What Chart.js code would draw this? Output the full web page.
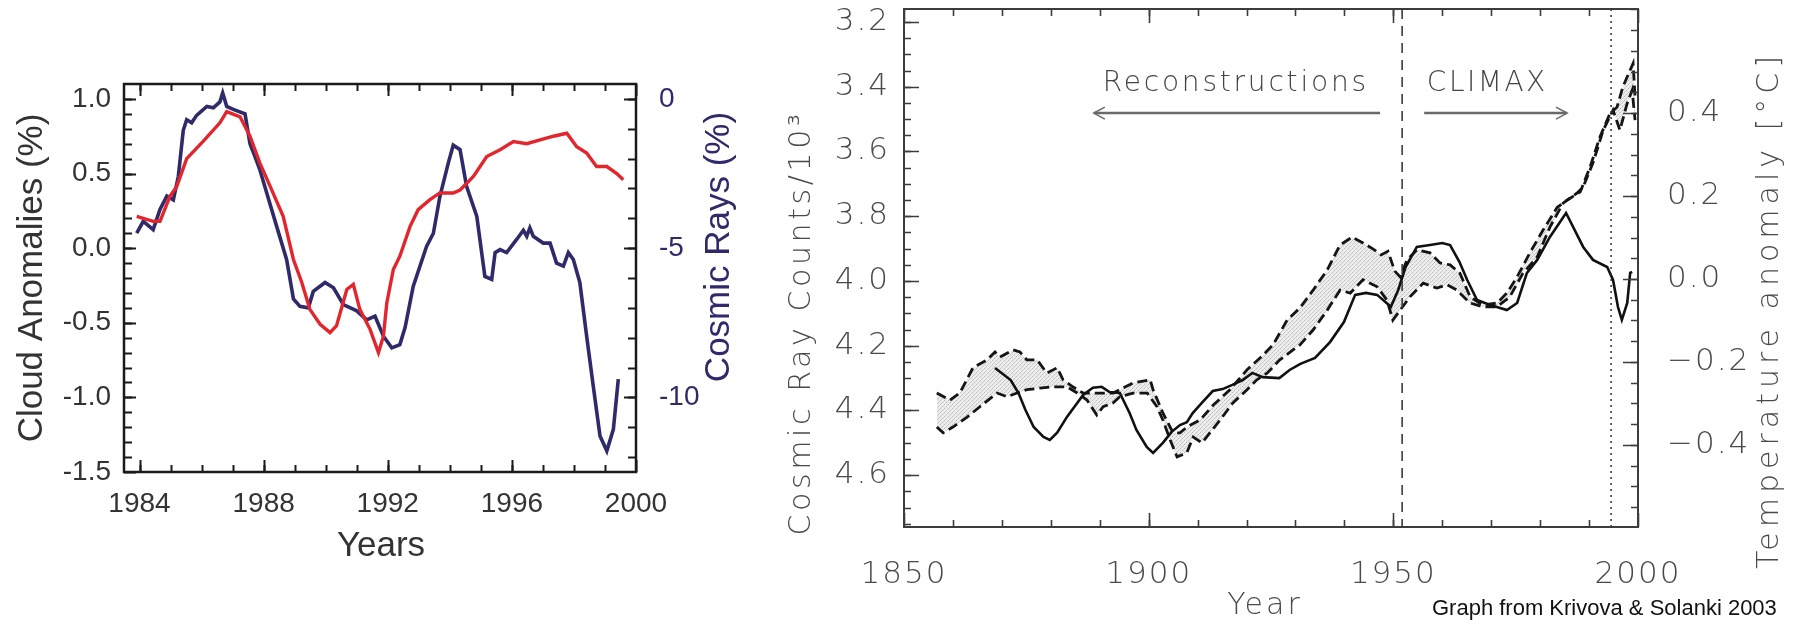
<!DOCTYPE html>
<html>
<head>
<meta charset="utf-8">
<title>Cloud cover, cosmic rays and temperature</title>
<script src="https://cdn.jsdelivr.net/npm/chart.js@4"></script>
<style>
  html, body { margin: 0; padding: 0; background: #fff; }
  body { width: 1796px; height: 625px; position: relative; overflow: hidden; }
  .box { position: absolute; top: 0; height: 625px; }
  #leftBox { left: 0; width: 760px; }
  #rightBox { left: 760px; width: 1036px; }
  #credit { position: absolute; left: 1432px; top: 595px; font: 22px "Liberation Sans", Arial, sans-serif; color: #111; white-space: nowrap; }
</style>
</head>
<body>
<div class="box" id="leftBox"><canvas id="cloudChart"></canvas></div>
<div class="box" id="rightBox"><canvas id="krivovaChart"></canvas></div>
<div id="credit">Graph from Krivova &amp; Solanki 2003</div>
<script>
// ---- left panel: cloud anomalies (%) vs cosmic rays (%) ----
const CLOUD_YEARS = [
  1983.91, 1984.44, 1984.66, 1984.98, 1985.20, 1985.52, 1986.05, 1986.59, 1986.81, 1987.24,
  1987.56, 1987.88, 1988.21, 1988.63, 1988.96, 1989.23, 1989.49, 1989.82, 1990.14, 1990.35,
  1990.68, 1990.89, 1991.10, 1991.43, 1991.70, 1991.86, 1991.97, 1992.18, 1992.39, 1992.72,
  1992.98, 1993.36, 1993.68, 1994.11, 1994.33, 1994.76, 1995.19, 1995.62, 1996.05, 1996.48,
  1996.91, 1997.34, 1997.77, 1998.09, 1998.41, 1998.73, 1999.06, 1999.38, 1999.59
];
const CLOUD_VALUES = [
  0.213, 0.18, 0.18, 0.347, 0.414, 0.60, 0.715, 0.84, 0.915, 0.88,
  0.75, 0.57, 0.414, 0.213, -0.076, -0.23, -0.41, -0.51, -0.566, -0.52,
  -0.277, -0.243, -0.41, -0.544, -0.70, -0.59, -0.366, -0.143, -0.054, 0.146,
  0.258, 0.325, 0.37, 0.37, 0.39, 0.48, 0.614, 0.66, 0.715, 0.70,
  0.726, 0.75, 0.77, 0.68, 0.637, 0.547, 0.547, 0.50, 0.458
];
const RAYS_YEARS = [
  1983.91, 1984.12, 1984.44, 1984.66, 1984.88, 1985.09, 1985.25, 1985.41, 1985.52, 1985.68,
  1985.84, 1986.17, 1986.38, 1986.59, 1986.68, 1986.81, 1987.02, 1987.40, 1987.56, 1987.72,
  1987.88, 1988.10, 1988.42, 1988.74, 1988.96, 1989.17, 1989.44, 1989.60, 1989.98, 1990.25,
  1990.57, 1991.00, 1991.32, 1991.59, 1991.86, 1992.13, 1992.39, 1992.56, 1992.82, 1993.25,
  1993.47, 1993.68, 1993.95, 1994.11, 1994.33, 1994.54, 1994.87, 1995.13, 1995.35, 1995.46,
  1995.62, 1995.83, 1996.16, 1996.37, 1996.48, 1996.58, 1996.69, 1997.01, 1997.23, 1997.44,
  1997.66, 1997.82, 1997.98, 1998.19, 1998.41, 1998.62, 1998.84, 1999.06, 1999.27, 1999.43
];
const RAYS_VALUES = [
  -4.50, -4.10, -4.38, -3.70, -3.25, -3.38, -2.60, -1.05, -0.70, -0.80,
  -0.55, -0.25, -0.30, -0.10, 0.20, -0.25, -0.35, -0.50, -1.50, -1.93,
  -2.38, -3.15, -4.27, -5.38, -6.70, -6.95, -7.00, -6.45, -6.15, -6.33,
  -6.89, -7.10, -7.40, -7.28, -7.95, -8.34, -8.23, -7.65, -6.28, -4.94,
  -4.50, -3.27, -2.15, -1.55, -1.70, -2.93, -3.94, -5.95, -6.05, -5.15,
  -5.05, -5.15, -4.70, -4.40, -4.60, -4.32, -4.60, -4.83, -4.83, -5.50,
  -5.60, -5.15, -5.38, -6.15, -7.95, -9.60, -11.29, -11.79, -11.07, -9.39
];
const LEFT_YEAR_TICKS = [1984, 1988, 1992, 1996, 2000];
const CLOUD_TICKS = [-1.5, -1.0, -0.5, 0.0, 0.5, 1.0];
const RAYS_TICKS = [-10, -5, 0];

// ---- right panel: cosmic ray counts/10^3 and temperature anomaly ----
const COUNT_YEARS = [
  1868.6, 1871.8, 1873.4, 1874.8, 1876.5, 1878.5, 1879.8, 1881.3, 1883.3, 1885.4,
  1886.6, 1888.6, 1890.4, 1892.0, 1894.1, 1896.1, 1897.5, 1899.6, 1900.9, 1902.9,
  1904.7, 1906.4, 1907.8, 1909.0, 1911.0, 1913.1, 1915.1, 1917.1, 1919.2, 1921.2,
  1923.3, 1926.7, 1928.8, 1931.0, 1934.0, 1937.1, 1939.9, 1942.2, 1944.4, 1946.7,
  1949.5, 1951.0, 1952.5, 1954.8, 1957.5, 1960.0, 1961.6, 1963.5, 1965.1, 1967.1,
  1969.8, 1973.2, 1975.3, 1977.3, 1979.4, 1982.0, 1985.3, 1988.8, 1990.8, 1993.7,
  1994.9, 1995.9, 1996.7, 1997.8, 1998.4, 1998.8
];
const COUNT_VALUES = [
  4.269, 4.306, 4.346, 4.398, 4.451, 4.482, 4.491, 4.469, 4.420, 4.377,
  4.352, 4.330, 4.327, 4.343, 4.346, 4.408, 4.460, 4.513, 4.531, 4.500,
  4.466, 4.445, 4.436, 4.408, 4.374, 4.340, 4.334, 4.321, 4.306, 4.284,
  4.297, 4.300, 4.275, 4.256, 4.238, 4.188, 4.127, 4.043, 4.037, 4.043,
  4.080, 4.028, 3.957, 3.895, 3.889, 3.883, 3.889, 3.941, 3.997, 4.059,
  4.074, 4.090, 4.068, 3.975, 3.935, 3.864, 3.790, 3.895, 3.935, 3.957,
  3.997, 4.080, 4.120, 4.068, 3.975, 3.972
];
const TEMP_HIGH_YEARS = [
  1856.7, 1859.4, 1861.4, 1864.1, 1867.0, 1868.6, 1869.6, 1872.3, 1873.7, 1875.1,
  1877.2, 1879.2, 1881.3, 1882.5, 1884.5, 1886.6, 1888.6, 1892.7, 1896.8, 1900.3,
  1900.9, 1902.9, 1905.0, 1906.4, 1907.8, 1910.5, 1913.2, 1916.6, 1920.1, 1922.8,
  1925.4, 1928.3, 1930.9, 1933.6, 1936.5, 1939.1, 1941.6, 1943.8, 1945.9, 1947.5,
  1948.9, 1950.3, 1951.4, 1952.8, 1954.8, 1957.5, 1959.5, 1961.6, 1963.6, 1965.7,
  1968.3, 1971.2, 1973.2, 1975.3, 1977.9, 1980.6, 1983.5, 1985.5, 1988.2, 1990.2,
  1992.2, 1994.3, 1995.7, 1996.9, 1998.4, 1999.0, 1999.4
];
const TEMP_HIGH = [
  -0.275, -0.292, -0.275, -0.214, -0.195, -0.176, -0.188, -0.171, -0.176, -0.195,
  -0.195, -0.227, -0.214, -0.243, -0.260, -0.275, -0.275, -0.275, -0.251, -0.243,
  -0.267, -0.323, -0.371, -0.371, -0.357, -0.340, -0.304, -0.267, -0.219, -0.190,
  -0.159, -0.099, -0.070, -0.027, 0.022, 0.082, 0.101, 0.087, 0.072, 0.058,
  0.067, 0.019, 0.005, 0.046, 0.070, 0.063, 0.039, 0.034, 0.014, -0.043,
  -0.063, -0.058, -0.034, 0.005, 0.063, 0.118, 0.173, 0.190, 0.210, 0.270,
  0.342, 0.400, 0.414, 0.463, 0.504, 0.520, 0.439
];
const TEMP_LOW_YEARS = [
  1856.7, 1858.0, 1860.0, 1862.9, 1865.5, 1867.2, 1869.0, 1871.1, 1873.1, 1875.1,
  1877.8, 1880.5, 1883.3, 1885.4, 1887.4, 1889.4, 1890.7, 1892.7, 1894.1, 1896.8,
  1899.7, 1901.7, 1902.9, 1904.4, 1905.8, 1907.8, 1909.1, 1910.9, 1912.5, 1914.6,
  1917.2, 1920.1, 1922.1, 1924.2, 1926.8, 1929.5, 1930.9, 1933.6, 1936.5, 1939.1,
  1941.2, 1943.8, 1946.7, 1948.7, 1949.9, 1951.4, 1953.4, 1956.1, 1958.9, 1961.0,
  1963.0, 1965.7, 1968.3, 1971.2, 1973.8, 1976.5, 1979.4, 1982.0, 1984.7, 1987.5,
  1988.8, 1990.8, 1992.9, 1994.9, 1996.3, 1997.8, 1998.8, 1999.4
];
const TEMP_LOW = [
  -0.357, -0.371, -0.357, -0.333, -0.308, -0.292, -0.275, -0.284, -0.275, -0.267,
  -0.263, -0.260, -0.260, -0.275, -0.292, -0.328, -0.308, -0.299, -0.284, -0.275,
  -0.275, -0.308, -0.340, -0.388, -0.429, -0.419, -0.381, -0.395, -0.371, -0.340,
  -0.299, -0.267, -0.243, -0.227, -0.195, -0.171, -0.159, -0.123, -0.075, -0.027,
  -0.034, -0.002, -0.019, -0.051, -0.099, -0.075, -0.043, -0.010, -0.022, -0.014,
  -0.027, -0.058, -0.067, -0.067, -0.043, 0.014, 0.053, 0.125, 0.183, 0.207,
  0.222, 0.280, 0.359, 0.407, 0.359, 0.424, 0.455, 0.383
];
const RIGHT_YEAR_TICKS = [1850, 1900, 1950, 2000];
const COUNT_TICKS = [3.2, 3.4, 3.6, 3.8, 4.0, 4.2, 4.4, 4.6];
const TEMP_TICKS = [-0.4, -0.2, 0.0, 0.2, 0.4];
const CLIMAX_START = 1951.8;   // dashed divider
const LAST_YEAR = 1994.5;      // dotted line

const RED = '#e3262d';
const NAVY = '#2f2b6a';
const LEFT_TEXT = '#333';
const RIGHT_TEXT = '#4a4a4a';

function pairs(xs, ys) {
  return xs.map((x, i) => ({ x: x, y: ys[i] }));
}

function steps(from, to, step) {
  const out = [];
  for (let i = 0; from + i * step <= to + 1e-9; i++) out.push(+(from + i * step).toFixed(4));
  return out;
}

function fixedTicks(values) {
  return scale => { scale.ticks = values.map(v => ({ value: v })); };
}

// pin the axis box size and drop the label overhang padding
function fixWidth(w) {
  return s => { s.width = w; s.paddingTop = 0; s.paddingBottom = 0; };
}
function fixHeight(h) {
  return s => { s.height = h; s.paddingLeft = 0; s.paddingRight = 0; };
}

// inward tick marks along one edge of the plot box
function tickMarks(ctx, scale, values, len, edge) {
  const a = scale.chart.chartArea;
  ctx.beginPath();
  for (const v of values) {
    const p = Math.round(scale.getPixelForValue(v)) + 0.5;
    if (edge === 'bottom') { ctx.moveTo(p, a.bottom); ctx.lineTo(p, a.bottom - len); }
    else if (edge === 'top') { ctx.moveTo(p, a.top); ctx.lineTo(p, a.top + len); }
    else if (edge === 'left') { ctx.moveTo(a.left, p); ctx.lineTo(a.left + len, p); }
    else { ctx.moveTo(a.right, p); ctx.lineTo(a.right - len, p); }
  }
  ctx.stroke();
}

function label(ctx, text, x, y, font, color, rotated, spacing) {
  ctx.save();
  ctx.translate(x, y);
  if (rotated) ctx.rotate(-Math.PI / 2);
  ctx.font = font;
  ctx.fillStyle = color;
  ctx.textAlign = 'center';
  ctx.textBaseline = 'middle';
  ctx.letterSpacing = spacing || '0px';
  ctx.fillText(text, 0, 0);
  ctx.restore();
}

function stipple() {
  const c = document.createElement('canvas');
  c.width = 4; c.height = 4;
  const g = c.getContext('2d');
  g.fillStyle = '#ececec';
  g.fillRect(0, 0, 4, 4);
  g.fillStyle = '#bdbdbd';
  g.fillRect(0, 0, 1, 1); g.fillRect(2, 2, 1, 1);
  g.fillStyle = '#d2d2d2';
  g.fillRect(3, 1, 1, 1); g.fillRect(1, 3, 1, 1);
  return g.createPattern(c, 'repeat');
}

Chart.defaults.font.family = '"Liberation Sans", Arial, sans-serif';
Chart.defaults.animation = false;

// ---------------- left chart ----------------
const leftFont = { family: '"Liberation Sans", Arial, sans-serif', size: 28 };

const leftFrame = {
  id: 'leftFrame',
  afterDatasetsDraw(chart) {
    const { ctx, chartArea: a, scales } = chart;
    ctx.save();
    ctx.strokeStyle = '#1a1a1a';
    ctx.lineWidth = 2;
    tickMarks(ctx, scales.x, steps(1984, 1999, 1), 7, 'bottom');
    tickMarks(ctx, scales.x, steps(1984, 1999, 1), 7, 'top');
    tickMarks(ctx, scales.x, LEFT_YEAR_TICKS, 12, 'bottom');
    tickMarks(ctx, scales.x, LEFT_YEAR_TICKS, 12, 'top');
    tickMarks(ctx, scales.y, steps(-1.4, 1.0, 0.1), 8, 'left');
    tickMarks(ctx, scales.y, CLOUD_TICKS, 12, 'left');
    tickMarks(ctx, scales.y2, steps(-12, 0, 1), 8, 'right');
    tickMarks(ctx, scales.y2, RAYS_TICKS, 12, 'right');
    ctx.lineWidth = 2.5;
    ctx.strokeRect(a.left, a.top, a.width, a.height);
    ctx.restore();

    const titleFont = '35px "Liberation Sans", Arial, sans-serif';
    label(ctx, 'Cloud Anomalies (%)', 32, 278, titleFont, LEFT_TEXT, true);
    label(ctx, 'Cosmic Rays (%)', 719, 247, titleFont, NAVY, true);
    label(ctx, 'Years', 381, 546, titleFont, LEFT_TEXT, false);
  }
};

new Chart(document.getElementById('cloudChart'), {
  type: 'line',
  data: {
    datasets: [
      { label: 'Cloud anomalies', data: pairs(CLOUD_YEARS, CLOUD_VALUES), yAxisID: 'y',
        borderColor: RED, borderWidth: 3.4, pointRadius: 0, tension: 0 },
      { label: 'Cosmic rays', data: pairs(RAYS_YEARS, RAYS_VALUES), yAxisID: 'y2',
        borderColor: NAVY, borderWidth: 3.6, pointRadius: 0, tension: 0 }
    ]
  },
  options: {
    responsive: true,
    maintainAspectRatio: false,
    devicePixelRatio: 1,
    layout: { padding: { top: 84, left: 0, right: 0, bottom: 0 } },
    plugins: { legend: { display: false }, tooltip: { enabled: false } },
    scales: {
      x: {
        type: 'linear', position: 'bottom', min: 1983.5, max: 2000,
        grid: { display: false, drawTicks: false }, border: { display: false },
        afterBuildTicks: fixedTicks(LEFT_YEAR_TICKS),
        afterFit: fixHeight(153),
        ticks: { font: leftFont, color: LEFT_TEXT, padding: 15, maxRotation: 0, autoSkip: false,
                 callback: v => String(v) }
      },
      y: {
        type: 'linear', position: 'left', min: -1.5, max: 1.1,
        grid: { display: false, drawTicks: false }, border: { display: false },
        afterBuildTicks: fixedTicks(CLOUD_TICKS),
        afterFit: fixWidth(124),
        ticks: { font: leftFont, color: LEFT_TEXT, padding: 13, callback: v => v.toFixed(1) }
      },
      y2: {
        type: 'linear', position: 'right', min: -12.5, max: 0.5,
        grid: { display: false, drawTicks: false }, border: { display: false },
        afterBuildTicks: fixedTicks(RAYS_TICKS),
        afterFit: fixWidth(124),
        ticks: { font: leftFont, color: NAVY, padding: 23, callback: v => String(v) }
      }
    }
  },
  plugins: [leftFrame]
});

// ---------------- right chart ----------------
const rightFont = { family: '"DejaVu Sans", sans-serif', size: 31, weight: '300' };
const rightTitle = '300 30px "DejaVu Sans", sans-serif';
const noteFont = '300 28px "DejaVu Sans", sans-serif';

const rightFrame = {
  id: 'rightFrame',
  beforeDraw(chart) {
    chart.ctx.letterSpacing = '2px';
  },
  afterDatasetsDraw(chart) {
    const { ctx, chartArea: a, scales } = chart;
    ctx.save();
    ctx.letterSpacing = '0px';
    ctx.strokeStyle = '#3c3c3c';

    // dividers
    ctx.lineWidth = 1.6;
    ctx.setLineDash([10, 7]);
    let px = scales.x.getPixelForValue(CLIMAX_START);
    ctx.beginPath(); ctx.moveTo(px, a.top); ctx.lineTo(px, a.bottom); ctx.stroke();
    ctx.setLineDash([2, 4]);
    px = scales.x.getPixelForValue(LAST_YEAR);
    ctx.beginPath(); ctx.moveTo(px, a.top); ctx.lineTo(px, a.bottom); ctx.stroke();
    ctx.setLineDash([]);

    // arrows
    const ay = scales.y2.getPixelForValue(0.40);
    const arrow = (from, to) => {
      const x1 = scales.x.getPixelForValue(from), x2 = scales.x.getPixelForValue(to);
      const d = Math.sign(x2 - x1);
      ctx.strokeStyle = '#6a6a6a';
      ctx.lineWidth = 2.5;
      ctx.beginPath(); ctx.moveTo(x1, ay); ctx.lineTo(x2, ay); ctx.stroke();
      ctx.lineWidth = 1.6;
      ctx.beginPath();
      ctx.moveTo(x2 - d * 11, ay - 6); ctx.lineTo(x2, ay); ctx.lineTo(x2 - d * 11, ay + 6);
      ctx.stroke();
    };
    arrow(1947.3, 1888.8);
    arrow(1956.3, 1985.5);

    // ticks and box
    ctx.strokeStyle = '#3c3c3c';
    ctx.lineWidth = 1.6;
    tickMarks(ctx, scales.x, steps(1860, 1990, 10), 7, 'bottom');
    tickMarks(ctx, scales.x, steps(1860, 1990, 10), 7, 'top');
    tickMarks(ctx, scales.x, RIGHT_YEAR_TICKS, 14, 'bottom');
    tickMarks(ctx, scales.x, RIGHT_YEAR_TICKS, 14, 'top');
    tickMarks(ctx, scales.y, steps(3.2, 4.75, 0.05), 7, 'left');
    tickMarks(ctx, scales.y, COUNT_TICKS, 15, 'left');
    tickMarks(ctx, scales.y2, steps(-0.55, 0.65, 0.05), 7, 'right');
    tickMarks(ctx, scales.y2, TEMP_TICKS, 15, 'right');
    ctx.lineWidth = 2;
    ctx.strokeRect(a.left, a.top, a.width, a.height);
    ctx.restore();

    const ty = scales.y2.getPixelForValue(0.47);
    label(ctx, 'Reconstructions', scales.x.getPixelForValue(1917.8), ty, noteFont, '#444', false, '2.8px');
    label(ctx, 'CLIMAX', scales.x.getPixelForValue(1969.2), ty, noteFont, '#444', false, '2.5px');
    label(ctx, 'Cosmic Ray Counts/10\u00B3', 42, 323, rightTitle, RIGHT_TEXT, true, '3.6px');
    label(ctx, 'Temperature anomaly [\u00B0C]', 1010, 310, rightTitle, RIGHT_TEXT, true, '5px');
    label(ctx, 'Year', 505, 606, rightTitle, RIGHT_TEXT, false, '3px');
  }
};

new Chart(document.getElementById('krivovaChart'), {
  type: 'line',
  data: {
    datasets: [
      { label: 'Cosmic ray counts', data: pairs(COUNT_YEARS, COUNT_VALUES), yAxisID: 'y',
        borderColor: '#111', borderWidth: 2.6, pointRadius: 0, tension: 0 },
      { label: 'Temperature (upper)', data: pairs(TEMP_HIGH_YEARS, TEMP_HIGH), yAxisID: 'y2',
        borderColor: '#151515', borderWidth: 2.8, borderDash: [10, 5], pointRadius: 0, tension: 0,
        fill: '+1', backgroundColor: stipple() },
      { label: 'Temperature (lower)', data: pairs(TEMP_LOW_YEARS, TEMP_LOW), yAxisID: 'y2',
        borderColor: '#151515', borderWidth: 2.8, borderDash: [10, 5], pointRadius: 0, tension: 0 }
    ]
  },
  options: {
    responsive: true,
    maintainAspectRatio: false,
    devicePixelRatio: 1,
    layout: { padding: { top: 9, left: 0, right: 0, bottom: 0 } },
    plugins: {
      legend: { display: false },
      tooltip: { enabled: false },
      filler: { drawTime: 'beforeDatasetsDraw' }
    },
    scales: {
      x: {
        type: 'linear', position: 'bottom', min: 1850, max: 2000,
        grid: { display: false, drawTicks: false }, border: { display: false },
        afterBuildTicks: fixedTicks(RIGHT_YEAR_TICKS),
        afterFit: fixHeight(98),
        ticks: { font: rightFont, color: RIGHT_TEXT, padding: 29, maxRotation: 0, autoSkip: false,
                 callback: v => String(v) }
      },
      y: {
        type: 'linear', position: 'left', reverse: true, min: 3.16, max: 4.76,
        grid: { display: false, drawTicks: false }, border: { display: false },
        afterBuildTicks: fixedTicks(COUNT_TICKS),
        afterFit: fixWidth(144),
        ticks: { font: rightFont, color: RIGHT_TEXT, padding: 14, callback: v => v.toFixed(1) }
      },
      y2: {
        type: 'linear', position: 'right', min: -0.598, max: 0.651,
        grid: { display: false, drawTicks: false }, border: { display: false },
        afterBuildTicks: fixedTicks(TEMP_TICKS),
        afterFit: fixWidth(158),
        ticks: { font: rightFont, color: RIGHT_TEXT, padding: 29,
                 callback: v => (v < -1e-9 ? '\u2212' : '') + Math.abs(v).toFixed(1) }
      }
    }
  },
  plugins: [rightFrame]
});
</script>
</body>
</html>
